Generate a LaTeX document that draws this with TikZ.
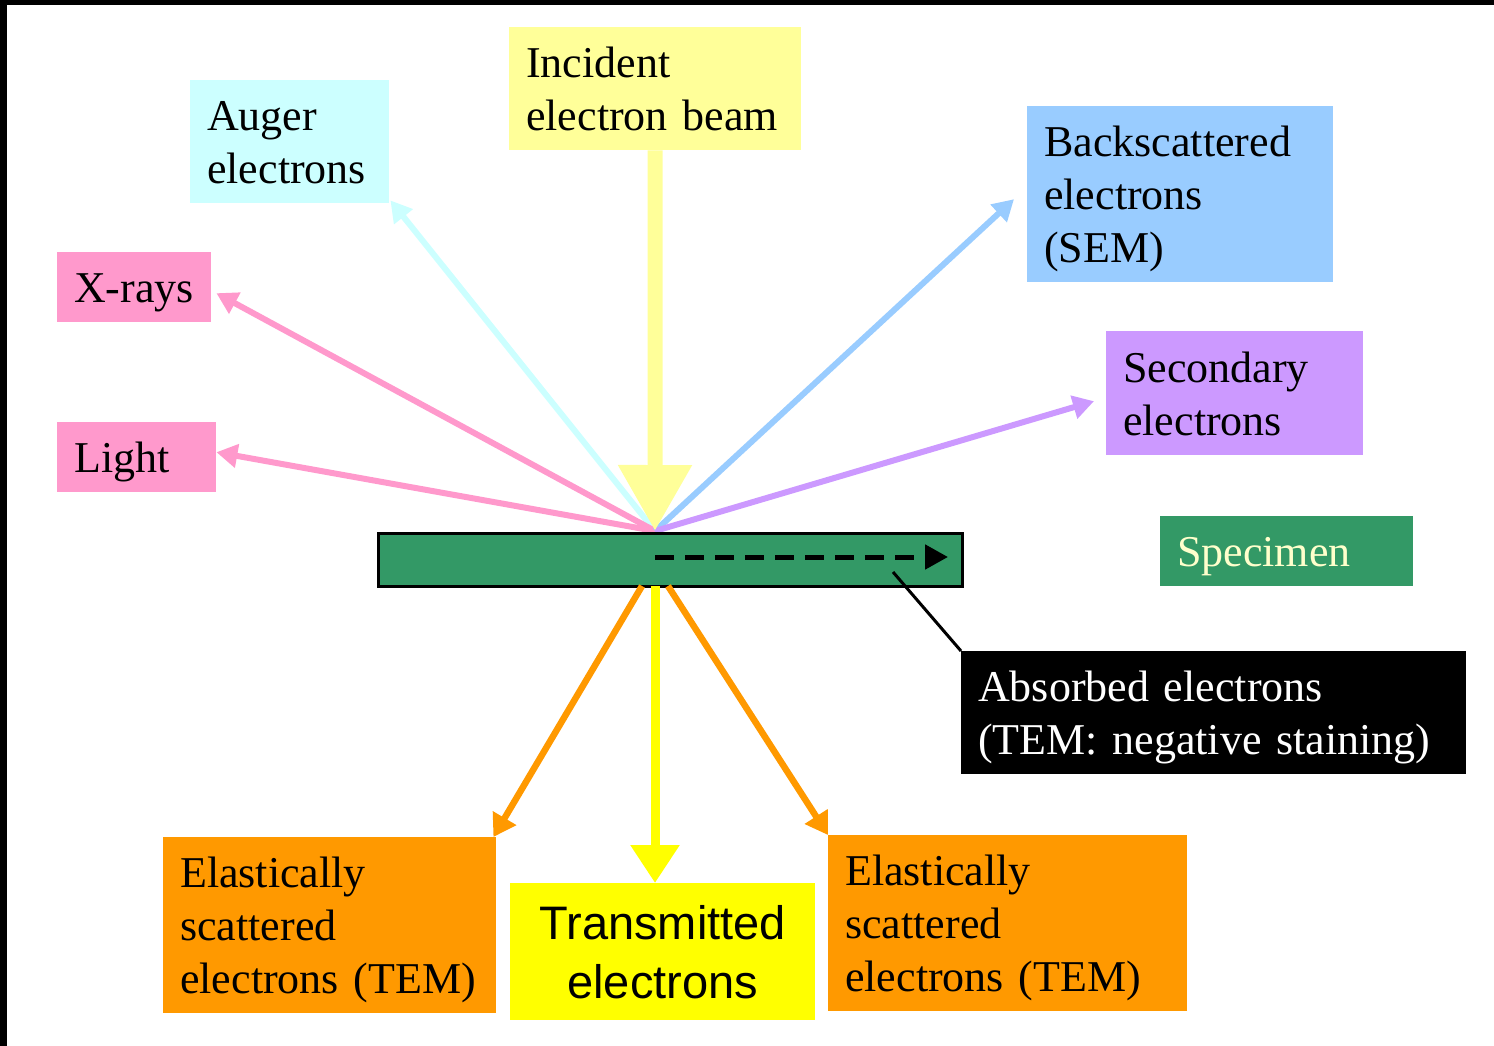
\documentclass[tikz,border=0pt]{standalone}
\usepackage{fontspec}
\setmainfont[WordSpace=0.8]{Liberation Serif}
\newfontfamily\arialfont{Liberation Sans}
\usetikzlibrary{arrows.meta}

\definecolor{beamyellow}{HTML}{FFFF99}
\definecolor{augercyan}{HTML}{CCFFFF}
\definecolor{xpink}{HTML}{FF99CC}
\definecolor{bseblue}{HTML}{99CCFF}
\definecolor{sepurple}{HTML}{CC99FF}
\definecolor{specgreen}{HTML}{339966}
\definecolor{speccream}{HTML}{FFFFCC}
\definecolor{elorange}{HTML}{FF9900}
\definecolor{transyellow}{HTML}{FFFF00}

\tikzset{
  tag/.style={anchor=north west, inner xsep=17pt, inner ysep=0pt, align=left,
              font=\fontsize{44}{53}\selectfont, text=black, text height=31pt},
  oneline/.style={text depth=0pt},
  twolines/.style={text depth=53pt},
  threelines/.style={text depth=106pt},
  ray/.style={line width=6pt, -{Triangle[length=21pt,width=23pt]}},
  scatter/.style={line width=6.5pt, -{Triangle[length=22pt,width=26pt]}}
}

\begin{document}
\begin{tikzpicture}[x=1pt,y=-1pt]
  \useasboundingbox (0,0) rectangle (1494,1046);
  % frame edges
  \fill[black] (0,0) rectangle (1494,5);
  \fill[black] (0,0) rectangle (7,1046);

  % labels above the specimen
  \node[tag, twolines, fill=beamyellow, text width=258pt, minimum height=123pt] (inc) at (509,27) {Incident\\electron beam};
  \node[tag, twolines, fill=augercyan, text width=165pt, minimum height=123pt] (auger) at (190,80) {Auger\\electrons};
  \node[tag, oneline, fill=xpink, text width=120pt, minimum height=70pt] (xray) at (57,252) {X-rays};
  \node[tag, oneline, fill=xpink, text width=125pt, minimum height=70pt] (light) at (57,422) {Light};
  \node[tag, threelines, fill=bseblue, text width=272pt, minimum height=176pt] (bse) at (1027,106) {Backscattered\\electrons\\(SEM)};
  \node[tag, twolines, fill=sepurple, text width=223pt, minimum height=124pt] (se) at (1106,331) {Secondary\\electrons};
  \node[tag, oneline, fill=specgreen, text=speccream, text width=219pt, minimum height=70pt] (legend) at (1160,516) {Specimen};

  % labels below the specimen
  \node[tag, twolines, fill=black, text=white, text width=471pt, minimum height=123pt] (absorbed) at (961,651) {Absorbed electrons\\(TEM: negative staining)};
  \node[tag, threelines, fill=elorange, text width=299pt, minimum height=176pt] (elL) at (163,837) {Elastically\\scattered\\electrons (TEM)};
  \node[tag, threelines, fill=elorange, text width=325pt, minimum height=176pt] (elR) at (828,835) {Elastically\\scattered\\electrons (TEM)};
  \node[anchor=north west, fill=transyellow, inner sep=0pt, align=center,
        text width=305pt, minimum height=137pt,
        font=\arialfont\fontsize{47}{59}\selectfont] (trans) at (510,883) {Transmitted\\electrons};

  % impact point and exit points of the beam
  \coordinate (hit) at (655,531);
  \coordinate (exitL) at (642,586);
  \coordinate (exitM) at (655,586);
  \coordinate (exitR) at (668,586);
  \coordinate (absorb) at (893,572);

  % emitted signals
  \draw[ray, augercyan] (hit) -- ([shift={(1,-3)}]auger.south east);
  \draw[ray, xpink] (hit) -- ([shift={(5,6)}]xray.east);
  \draw[ray, xpink] (hit) -- ([shift={(0,-5)}]light.east);
  \draw[ray, bseblue] (hit) -- ([shift={(-13,5)}]bse.west);
  \draw[ray, sepurple] (hit) -- ([shift={(-12,8)}]se.west);

  % incident beam
  \draw[beamyellow, line width=15pt, -{Triangle[length=66pt,width=70pt]}] (inc.south) -- (hit);

  % specimen
  \node[draw=black, line width=3pt, fill=specgreen, inner sep=0pt, anchor=north west,
        minimum width=584pt, minimum height=53pt] (specimen) at (376.5,531.5) {};

  % absorbed path inside the specimen
  \draw[black, line width=5pt, dash pattern=on 19pt off 11pt,
        -{Triangle[length=23pt,width=24pt]}] (655,557) -- (948,557);
  \draw[black, line width=3pt] (absorb) -- (absorbed.north west);

  % transmitted and scattered electrons
  \draw[scatter, elorange] (exitL) -- ([shift={(-3,0)}]elL.north east);
  \draw[scatter, elorange] (exitR) -- (elR.north west);
  \draw[transyellow, line width=9pt, -{Triangle[length=38pt,width=47pt]}] (exitM) -- (exitM |- trans.north);
\end{tikzpicture}
\end{document}
